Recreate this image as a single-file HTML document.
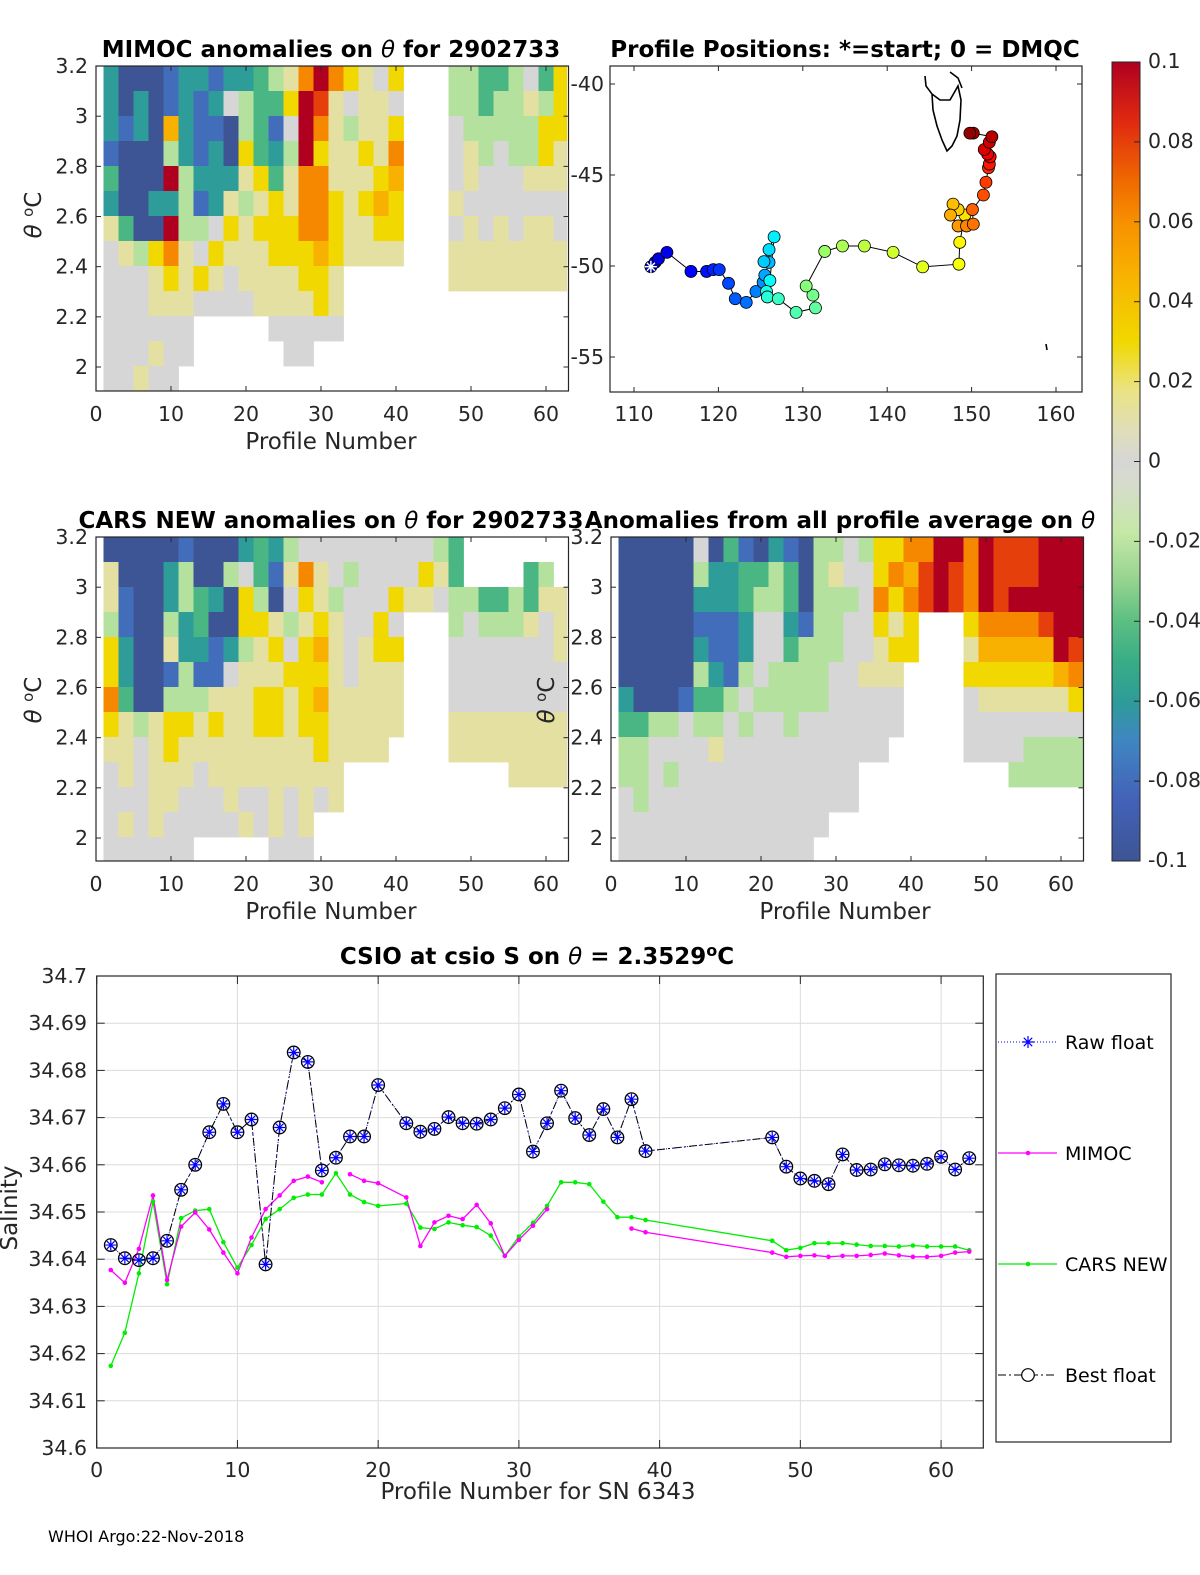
<!DOCTYPE html>
<html><head><meta charset="utf-8">
<style>
html,body{margin:0;padding:0;background:#fff;}
svg{display:block;font-family:"DejaVu Sans","Liberation Sans",sans-serif;}
.tk{font-size:20.5px;fill:#262626;}
.lb{font-size:23px;fill:#262626;}
.tt{font-size:23px;font-weight:bold;fill:#000;}
.ax{fill:none;stroke:#262626;stroke-width:1.2;}
</style></head>
<body>
<svg id="fig" width="1200" height="1575" viewBox="0 0 1200 1575" xmlns="http://www.w3.org/2000/svg">
<defs>
<clipPath id="c1"><rect x="96" y="66" width="471" height="325"/></clipPath>
<clipPath id="c2"><rect x="96" y="537" width="471" height="324"/></clipPath>
<clipPath id="c3"><rect x="611" y="537" width="472" height="324"/></clipPath>
<linearGradient id="cbg" x1="0" y1="1" x2="0" y2="0"></linearGradient>
</defs>
<!-- Titles -->
<text class="tt" x="331" y="57" text-anchor="middle">MIMOC anomalies on <tspan font-style="italic" font-weight="normal">θ</tspan>  for 2902733</text>
<text class="tt" x="845" y="57" text-anchor="middle">Profile Positions: *=start; 0 = DMQC</text>
<text class="tt" x="331" y="528" text-anchor="middle">CARS NEW anomalies on <tspan font-style="italic" font-weight="normal">θ</tspan> for 2902733</text>
<text class="tt" x="840" y="528" text-anchor="middle">Anomalies from all profile average on <tspan font-style="italic" font-weight="normal">θ</tspan></text>
<text class="tt" x="537" y="964" text-anchor="middle">CSIO at csio S on <tspan font-style="italic" font-weight="normal">θ</tspan> = 2.3529<tspan dy="-8" font-size="16">o</tspan><tspan dy="8">C</tspan></text>

<g id="heat1" clip-path="url(#c1)"></g>
<g id="heat2" clip-path="url(#c2)"></g>
<g id="heat3" clip-path="url(#c3)"></g>
<g id="axes"></g>
<g id="map"></g>
<g id="cbar"></g>
<g id="line"></g>

<text class="lb" x="331" y="449" text-anchor="middle">Profile Number</text>
<text class="lb" x="331" y="919" text-anchor="middle">Profile Number</text>
<text class="lb" x="845" y="919" text-anchor="middle">Profile Number</text>
<text class="lb" transform="translate(41,215) rotate(-90)" text-anchor="middle"><tspan font-style="italic">θ</tspan> <tspan dy="-8" font-size="15">o</tspan><tspan dy="8">C</tspan></text>
<text class="lb" transform="translate(41,700) rotate(-90)" text-anchor="middle"><tspan font-style="italic">θ</tspan> <tspan dy="-8" font-size="15">o</tspan><tspan dy="8">C</tspan></text>
<text class="lb" transform="translate(554,700) rotate(-90)" text-anchor="middle"><tspan font-style="italic">θ</tspan> <tspan dy="-8" font-size="15">o</tspan><tspan dy="8">C</tspan></text>
<text class="lb" x="538" y="1499" text-anchor="middle">Profile Number for SN 6343</text>
<text class="lb" transform="translate(17,1208) rotate(-90)" text-anchor="middle">Salinity</text>
<text x="48" y="1542" font-size="16" fill="#000">WHOI Argo:22-Nov-2018</text>
</svg>
<script>
// ---------- data ----------
const heatCodes = ['B','b','t','g','l','0','y','Y','o','O','r','R'];
const heatCodeValues = [-0.1,-0.08,-0.06,-0.045,-0.022,0,0.012,0.03,0.047,0.062,0.08,0.1];
const mimocRows = [
"tBBBbttbtt"+"glyOROYy0Y"+"..."+"llggl0gY",
"tBtBbtbt0l"+"ggYRry0yy0"+"..."+"llgllylY",
"tbtBotbbBl"+"gb0ROylyyY"+"..."+"0lllllYY",
"bBBBltbtBY"+"gtlRYyyYyO"+"..."+"0yl0llYy",
"gBBBRlttty"+"YgyOOyyyYo"+"..."+"0y000yyy",
"tBBttlbtyl"+"yYyOOYyYoY"+"..."+"y0000000",
"ygBBRll0Yy"+"YYYOOYyyYY"+"..."+"0y0y0yy0",
"0ylYOy0Yyy"+"yYYYoYyyyy"+"..."+"yyyyyyyy",
"000yYyYy0y"+"yyyYYy...."+"..."+"yyyyyyyy",
"000yyy0000"+"yyyyYy...."+"..."+"........",
"000000...."+".00000...."+"..."+"........",
"000y00...."+"..00......"+"..."+"........",
"00y00....."+".........."+"..."+"........"];
const carsRows = [
"BBBBBbBBBt"+"gtl0000000"+"00lg.......",
"yBBBtlBBl0"+"gbyOy0l000"+"0Yyg....gl.",
"ybBBtlgtBY"+"lB0Yyl000Y"+"yy0llgglgyy",
"lbBBltgBBY"+"YylyYy00Y0"+"...l0llly0y",
"YtBByttbtl"+"yY0Yoy0yYY"+"...0000000y",
"YtBBblbb0y"+"yyYYYy0yyy"+"...00000000",
"OgBBlllyyy"+"YYyYoyyyyy"+"...00000000",
"YylyYYyYyy"+"YYyYYyyyyy"+"...yyyyyyyy",
"yy0yYyyyyy"+"yyyyYyyyy."+"...yyyyyyyy",
"0y0yyy0yyy"+"yyyyyy...."+".......yyyy",
"000yy000y0"+"0y0y0y...."+"...........",
"0y0y00000y"+"0y0y......"+"...........",
"000000...."+".000......"+"..........."];
const allRows = [
"BBBBB0BgbB"+"tbBll0lYYO"+"ORRORrrrRRR",
"BBBBBlttgg"+"lgBly00YOo"+"rRrORrrrRRR",
"BBBBBtttgl"+"lgBlll0OYO"+"rRrORrRRRRR",
"BBBBBbbbt0"+"0tbll00YyY"+"...YOOOOrRR",
"BBBBBtbbt0"+"0glll00yYY"+"...yoooooRr",
"BBBBBltbl0"+"llll00yyy."+"...YYYYYYoO",
"tBBBbggl0l"+"llll00000."+"...0yyyyyyY",
"ggll0ll0l0"+"0l0000000."+"...00000000",
"ll0000y000"+"00000000.."+"...0000llll",
"ll0l000000"+"000000...."+"......lllll",
"0l00000000"+"000000...."+"...........",
"0000000000"+"0000......"+"...........",
"0000000000"+"000......."+"..........."];

const mapLons = [112.0,112.5,112.9,113.9,116.75,118.6,119.4,120.1,121.2,122.0,123.3,124.45,125.3,125.5,126.0,125.4,126.0,126.6,126.1,125.7,125.8,127.1,129.2,131.5,131.2,130.4,132.6,134.7,137.3,140.7,144.2,148.5,148.6,149.2,148.4,147.8,147.5,148.4,149.4,150.2,150.1,151.4,151.7,152.0,152.1,152.2,151.9,151.5,152.1,152.4,150.2,149.8];
const mapLats = [-50.04,-49.8,-49.6,-49.25,-50.3,-50.3,-50.2,-50.2,-50.95,-51.8,-52.0,-51.4,-50.9,-50.5,-49.8,-49.76,-49.1,-48.4,-50.8,-51.4,-51.7,-51.8,-52.55,-52.3,-51.6,-51.1,-49.2,-48.9,-48.9,-49.25,-50.05,-49.9,-48.7,-47.2,-46.9,-46.6,-47.2,-47.8,-47.8,-47.7,-46.9,-46.1,-45.4,-44.6,-44.4,-44.0,-43.85,-43.6,-43.2,-42.9,-42.7,-42.7];

const profiles = [1,2,3,4,5,6,7,8,9,10,11,12,13,14,15,16,17,18,19,20,22,23,24,25,26,27,28,29,30,31,32,33,34,35,36,37,38,39,48,49,50,51,52,53,54,55,56,57,58,59,60,61,62];
const bestFloat = [34.6430,34.6402,34.6398,34.6402,34.6439,34.6547,34.6600,34.6669,34.6729,34.6669,34.6696,34.6389,34.6679,34.6838,34.6818,34.6588,34.6615,34.6660,34.6660,34.6769,
34.6688,34.6670,34.6676,34.6701,34.6688,34.6687,34.6696,34.6720,34.6749,34.6628,34.6688,34.6757,34.6699,34.6663,34.6718,34.6658,34.6739,34.6629,
34.6658,34.6596,34.6571,34.6566,34.6559,34.6622,34.6589,34.6590,34.6601,34.6599,34.6598,34.6602,34.6617,34.6590,34.6614];
const mimocSal = [34.6377,34.6350,34.6422,34.6535,34.6356,34.6469,34.6499,34.6463,34.6414,34.6370,34.6446,34.6506,34.6535,34.6566,34.6575,34.6563,null,34.6580,34.6566,34.6561,
34.6531,34.6428,34.6478,34.6492,34.6485,34.6515,34.6476,34.6407,34.6441,34.6471,34.6506,null,null,null,null,null,34.6465,34.6457,
34.6414,34.6405,34.6407,34.6408,34.6405,34.6407,34.6407,34.6409,34.6412,34.6408,34.6405,34.6405,34.6407,34.6414,34.6416];
const carsSal = [34.6174,34.6244,34.6370,34.6522,34.6347,34.6487,34.6503,34.6506,34.6436,34.6382,34.6430,34.6485,34.6506,34.6530,34.6537,34.6537,34.6582,34.6537,34.6521,34.6513,
34.6518,34.6467,34.6464,34.6478,34.6472,34.6468,34.6450,34.6407,34.6448,34.6477,34.6513,34.6563,34.6563,34.6559,34.6522,34.6489,34.6489,34.6483,
34.6439,34.6419,34.6424,34.6434,34.6434,34.6434,34.6431,34.6428,34.6428,34.6427,34.6429,34.6427,34.6427,34.6427,34.6419];
const salTicks = ['34.6','34.61','34.62','34.63','34.64','34.65','34.66','34.67','34.68','34.69','34.7'];
const profTicks = [0,10,20,30,40,50,60];
const thetaTicks = ['2','2.2','2.4','2.6','2.8','3','3.2'];
const cbTicks = ['-0.1','-0.08','-0.06','-0.04','-0.02','0','0.02','0.04','0.06','0.08','0.1'];

// ---------- helpers ----------
const NS='http://www.w3.org/2000/svg';
function mk(tag,attrs,parent){const e=document.createElementNS(NS,tag);for(const k in attrs)e.setAttribute(k,attrs[k]);parent.appendChild(e);return e;}
const stops=[[-0.1,'#3d5594'],[-0.085,'#4361b8'],[-0.07,'#3f86c2'],[-0.06,'#2e9c98'],[-0.05,'#38ad86'],[-0.04,'#5cbf82'],[-0.03,'#94d38f'],[-0.018,'#c4e8a6'],[-0.006,'#d6dccb'],[0,'#d6d6d6'],[0.008,'#e0deb8'],[0.018,'#ebe382'],[0.03,'#f0d800'],[0.045,'#f8b600'],[0.06,'#f79000'],[0.07,'#f06a00'],[0.085,'#e02a10'],[0.1,'#b00020']];
function hx(c){return [parseInt(c.substr(1,2),16),parseInt(c.substr(3,2),16),parseInt(c.substr(5,2),16)];}
function cmap(v){if(v<=stops[0][0])return stops[0][1];for(let i=1;i<stops.length;i++){if(v<=stops[i][0]){const a=stops[i-1],b=stops[i],t=(v-a[0])/(b[0]-a[0]);const ca=hx(a[1]),cb=hx(b[1]);return 'rgb('+ca.map((x,j)=>Math.round(x+(cb[j]-x)*t)).join(',')+')';}}return stops[stops.length-1][1];}
function jet(t){const r=Math.min(1,Math.max(0,1.5-Math.abs(4*t-3))),g=Math.min(1,Math.max(0,1.5-Math.abs(4*t-2))),b=Math.min(1,Math.max(0,1.5-Math.abs(4*t-1)));return 'rgb('+[r,g,b].map(x=>Math.round(x*255)).join(',')+')';}

function profX(x0,p){return x0+7.5*p;}
function drawHeat(rows,x0,yTop,g){
  rows.forEach((row,r)=>{
    for(let c=0;c<row.length;c++){
      const code=row[c]; if(code==='.')continue;
      const v=heatCodeValues[heatCodes.indexOf(code)];
      const el=mk('rect',{x:profX(x0,2*c+1),y:yTop+25*r,width:15.4,height:25.4,fill:cmap(v)},g);
      
      
    }
  });
}
drawHeat(mimocRows,96,66,document.getElementById('heat1'));
drawHeat(carsRows,96,537,document.getElementById('heat2'));
drawHeat(allRows,611,537,document.getElementById('heat3'));

const axes=document.getElementById('axes');
function panel(x0,yTop,yBot,name,showTheta){
  const w=7.5*63;
  const b=mk('rect',{x:x0,y:yTop,width:w,height:yBot-yTop,class:'ax'},axes);
  
  
  profTicks.forEach(p=>{
    const x=profX(x0,p);
    mk('line',{x1:x,y1:yBot,x2:x,y2:yBot-5,stroke:'#262626'},axes);
    mk('line',{x1:x,y1:yTop,x2:x,y2:yTop+5,stroke:'#262626'},axes);
    const t=mk('text',{x:x,y:yBot+30,class:'tk','text-anchor':'middle'},axes);
    t.textContent=p;
    
    
  });
  if(showTheta){
    const yBase=yTop+301;
    thetaTicks.forEach(s=>{
      const y=yBase-(parseFloat(s)-2)*250.8;
      mk('line',{x1:x0,y1:y,x2:x0+5,y2:y,stroke:'#262626'},axes);
      mk('line',{x1:x0+w,y1:y,x2:x0+w-5,y2:y,stroke:'#262626'},axes);
      const t=mk('text',{x:x0-8,y:y+7,class:'tk','text-anchor':'end'},axes);
      t.textContent=s;
      
      
    });
  }
}
panel(96,66,391,'mimoc',true);
panel(96,537,861,'cars',true);
panel(611,537,861,'allprofile',true);

// ---------- map ----------
const map=document.getElementById('map');
const mx0=610,mx1=1082,my0=66,my1=392;
function lonX(l){return 634+(l-110)*8.44;}
function latY(l){return 84+(-40-l)*18.2;}
const mb=mk('rect',{x:mx0,y:my0,width:mx1-mx0,height:my1-my0,class:'ax'},map);


[110,120,130,140,150,160].forEach(l=>{
  const x=lonX(l);
  mk('line',{x1:x,y1:my1,x2:x,y2:my1-5,stroke:'#262626'},map);
  mk('line',{x1:x,y1:my0,x2:x,y2:my0+5,stroke:'#262626'},map);
  const t=mk('text',{x:x,y:421,class:'tk','text-anchor':'middle'},map);
  t.textContent=l;
  
  
});
[-40,-45,-50,-55].forEach(l=>{
  const y=latY(l);
  mk('line',{x1:mx0,y1:y,x2:mx0+5,y2:y,stroke:'#262626'},map);
  mk('line',{x1:mx1,y1:y,x2:mx1-5,y2:y,stroke:'#262626'},map);
  const t=mk('text',{x:604,y:y+7,class:'tk','text-anchor':'end'},map);
  t.textContent=l;
  
  
});
const coast=mk('path',{d:'M925,76 L926,86 L932,94 L933,110 L937,126 L942,140 L947,151 L952,146 L957,136 L960,120 L961,100 L958,86 L950,100 L940,100 L932,94 M950,72 L958,78 L962,88 M1046,344 L1047,350',fill:'none',stroke:'#000','stroke-width':1.6},map);


let trk='';
mapLons.forEach((l,i)=>{trk+=(i?'L':'M')+lonX(l).toFixed(1)+','+latY(mapLats[i]).toFixed(1);});
const tr=mk('path',{d:trk,fill:'none',stroke:'#000','stroke-width':1},map);


mapLons.forEach((l,i)=>{
  const c=mk('circle',{cx:lonX(l),cy:latY(mapLats[i]),r:6,fill:jet(0.05+0.95*i/(mapLons.length-1)*0.98),stroke:'#000','stroke-width':0.8},map);
  
  
});
const sx=lonX(mapLons[0]),sy=latY(mapLats[0]);
const st=mk('path',{d:`M${sx-6},${sy}L${sx+6},${sy}M${sx},${sy-6}L${sx},${sy+6}M${sx-4},${sy-4}L${sx+4},${sy+4}M${sx-4},${sy+4}L${sx+4},${sy-4}`,stroke:'#fff','stroke-width':1.4},map);



// ---------- colorbar ----------
const grad=document.getElementById('cbg');
stops.forEach(s=>{mk('stop',{offset:((s[0]+0.1)/0.2*100).toFixed(1)+'%','stop-color':s[1]},grad);});
const cb=document.getElementById('cbar');
const cbr=mk('rect',{x:1112,y:62,width:28,height:799,fill:'url(#cbg)',stroke:'#262626','stroke-width':1},cb);


cbTicks.forEach(s=>{
  const y=861-(parseFloat(s)+0.1)/0.2*799;
  mk('line',{x1:1134,y1:y,x2:1140,y2:y,stroke:'#262626'},cb);
  const t=mk('text',{x:1148,y:y+6,class:'tk','font-size':'17px','text-anchor':'start'},cb);
  t.textContent=s;
  
  
});

// ---------- salinity line chart ----------
const lg=document.getElementById('line');
const X0=96.7,X1=983.3,Y0=976,Y1=1448;
function sxF(p){return X0+(p/63)*(X1-X0);}
function syF(v){return Y1-(v-34.6)/0.1*(Y1-Y0);}
salTicks.forEach(s=>{
  const y=syF(parseFloat(s));
  mk('line',{x1:X0,y1:y,x2:X1,y2:y,stroke:'#dcdcdc','stroke-width':1},lg);
  mk('line',{x1:X0,y1:y,x2:X0+8,y2:y,stroke:'#262626'},lg);
  mk('line',{x1:X1,y1:y,x2:X1-8,y2:y,stroke:'#262626'},lg);
  const t=mk('text',{x:87,y:y+7,class:'tk','text-anchor':'end'},lg);
  t.textContent=s;
  
  
});
profTicks.forEach(p=>{
  const x=sxF(p);
  mk('line',{x1:x,y1:Y0,x2:x,y2:Y1,stroke:'#dcdcdc','stroke-width':1},lg);
  mk('line',{x1:x,y1:Y1,x2:x,y2:Y1-8,stroke:'#262626'},lg);
  mk('line',{x1:x,y1:Y0,x2:x,y2:Y0+8,stroke:'#262626'},lg);
  const t=mk('text',{x:x,y:1477,class:'tk','text-anchor':'middle'},lg);
  t.textContent=p;
  
  
});
const lb=mk('rect',{x:X0,y:Y0,width:X1-X0,height:Y1-Y0,class:'ax'},lg);


function pathOf(vals){let d='',pen=false;vals.forEach((v,i)=>{if(v===null){pen=false;return;}d+=(pen?'L':'M')+sxF(profiles[i]).toFixed(1)+','+syF(v).toFixed(1);pen=true;});return d;}
const cl=mk('path',{d:pathOf(carsSal),fill:'none',stroke:'#00ee00','stroke-width':1.3},lg);


const ml=mk('path',{d:pathOf(mimocSal),fill:'none',stroke:'#ff00ff','stroke-width':1.3},lg);


carsSal.forEach((v,i)=>{if(v===null)return;
  const d=mk('circle',{cx:sxF(profiles[i]),cy:syF(v),r:2.3,fill:'#00ee00'},lg);
  
  
});
mimocSal.forEach((v,i)=>{if(v===null)return;
  const d=mk('circle',{cx:sxF(profiles[i]),cy:syF(v),r:2.3,fill:'#ff00ff'},lg);
  
  
});
const rl=mk('path',{d:pathOf(bestFloat),fill:'none',stroke:'#0000ff','stroke-width':1,'stroke-dasharray':'1,2'},lg);


const bl=mk('path',{d:pathOf(bestFloat),fill:'none',stroke:'#000','stroke-width':1,'stroke-dasharray':'8,3,2,3'},lg);


function star(g,x,y,r,col){mk('path',{d:`M${x-r},${y}L${x+r},${y}M${x},${y-r}L${x},${y+r}M${x-r*0.7},${y-r*0.7}L${x+r*0.7},${y+r*0.7}M${x-r*0.7},${y+r*0.7}L${x+r*0.7},${y-r*0.7}`,stroke:col,'stroke-width':1.2,fill:'none'},g);}
bestFloat.forEach((v,i)=>{
  const x=sxF(profiles[i]),y=syF(v);
  const c=mk('circle',{cx:x,cy:y,r:6.3,fill:'none',stroke:'#000','stroke-width':1.3},lg);
  
  
  star(lg,x,y,5.5,'#0000ff');
});

// legend
const lgd=mk('rect',{x:996,y:974,width:175,height:468,fill:'#fff',stroke:'#262626','stroke-width':1.2},lg);


const legNames=['Raw float','MIMOC','CARS NEW','Best float'];
const legY=[1042,1153,1264,1375];
legNames.forEach((n,i)=>{
  const y=legY[i];
  const g=mk('g',{},lg);
  
  
  if(i===0){mk('line',{x1:998,y1:y,x2:1057,y2:y,stroke:'#0000ff','stroke-dasharray':'1,2'},g);star(g,1028,y,6,'#0000ff');}
  if(i===1){mk('line',{x1:998,y1:y,x2:1057,y2:y,stroke:'#ff00ff','stroke-width':1.3},g);mk('circle',{cx:1028,cy:y,r:2.3,fill:'#ff00ff'},g);}
  if(i===2){mk('line',{x1:998,y1:y,x2:1057,y2:y,stroke:'#00ee00','stroke-width':1.3},g);mk('circle',{cx:1028,cy:y,r:2.3,fill:'#00ee00'},g);}
  if(i===3){mk('line',{x1:998,y1:y,x2:1057,y2:y,stroke:'#000','stroke-dasharray':'8,3,2,3'},g);mk('circle',{cx:1028,cy:y,r:6.3,fill:'#fff',stroke:'#000','stroke-width':1.2},g);}
  const t=mk('text',{x:1065,y:y+7,'font-size':'19px',fill:'#000'},g);
  t.textContent=n;
  
  
});
</script>
</body></html>
